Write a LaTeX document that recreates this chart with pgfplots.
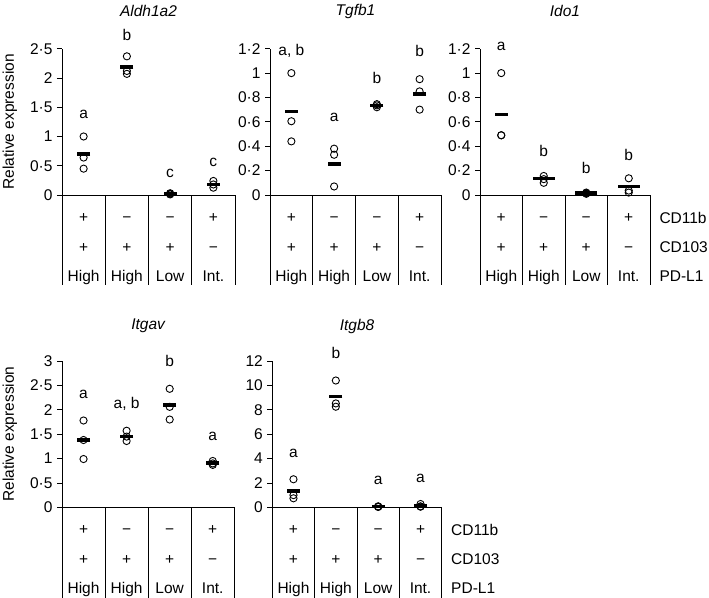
\documentclass[border=0pt]{standalone}
\usepackage{fontspec}
\setmainfont{Liberation Sans}
\usepackage{pgfplots}
\pgfplotsset{compat=1.18}
\newcommand\fs{\fontsize{15.5bp}{18bp}\selectfont}
\pgfplotsset{
  panel/.style={
    scale only axis, height=146.3bp,
    xmin=0, xmax=4, ymin=0, enlargelimits=false, clip=false,
    axis y line*=left, axis x line*=bottom,
    xtick=\empty,
    axis line style={line width=0.8bp, black},
    tick style={line width=0.8bp, black},
    tick align=outside, major tick length=5bp,
    yticklabel style={font=\fs, xshift=-1bp},
    title style={font=\fs\itshape, at={(0.5,1)}, anchor=center, yshift=31.5bp},
    ylabel style={font=\fs, at={(axis description cs:-0.302,0.5)}, anchor=center},
    anchor=south west,
  },
  pts/.style={only marks, mark=o, mark size=3.6bp, mark options={line width=0.9bp, black}},
  mean/.style={only marks, mark=-, mark size=6.5bp, mark options={line width=3.4bp, black}},
}
\newcommand\tbl[1]{%
  \draw[line width=0.8bp] (axis cs:0,0) -- ++(0,-#1);
  \draw[line width=0.8bp] (axis cs:1,0) -- ++(0,-#1);
  \draw[line width=0.8bp] (axis cs:2,0) -- ++(0,-#1);
  \draw[line width=0.8bp] (axis cs:3,0) -- ++(0,-#1);
  \draw[line width=0.8bp] (axis cs:4,0) -- ++(0,-#1);
  \node[font=\fs, anchor=base] at ([yshift=-27.5bp]axis cs:0.5,0) {+};
  \node[font=\fs, anchor=base] at ([yshift=-27.5bp]axis cs:1.5,0) {−};
  \node[font=\fs, anchor=base] at ([yshift=-27.5bp]axis cs:2.5,0) {−};
  \node[font=\fs, anchor=base] at ([yshift=-27.5bp]axis cs:3.5,0) {+};
  \node[font=\fs, anchor=base] at ([yshift=-57.5bp]axis cs:0.5,0) {+};
  \node[font=\fs, anchor=base] at ([yshift=-57.5bp]axis cs:1.5,0) {+};
  \node[font=\fs, anchor=base] at ([yshift=-57.5bp]axis cs:2.5,0) {+};
  \node[font=\fs, anchor=base] at ([yshift=-57.5bp]axis cs:3.5,0) {−};
  \node[font=\fs, anchor=base] at ([yshift=-86bp]axis cs:0.5,0) {High};
  \node[font=\fs, anchor=base] at ([yshift=-86bp]axis cs:1.5,0) {High};
  \node[font=\fs, anchor=base] at ([yshift=-86bp]axis cs:2.5,0) {Low};
  \node[font=\fs, anchor=base] at ([yshift=-86bp]axis cs:3.5,0) {Int.};
}
\newcommand\side{%
  \node[font=\fs, anchor=base west] at ([xshift=6bp,yshift=-28bp]axis cs:4,0) {CD11b};
  \node[font=\fs, anchor=base west] at ([xshift=6bp,yshift=-57.5bp]axis cs:4,0) {CD103};
  \node[font=\fs, anchor=base west] at ([xshift=6bp,yshift=-86bp]axis cs:4,0) {PD-L1};
}
\begin{document}
\begin{tikzpicture}
\useasboundingbox (0,0) rectangle (709bp,-598bp);
% Aldh1a2
\begin{axis}[panel, at={(62bp,-195bp)}, width=173bp, ymax=2.5,
  ytick={0,0.5,1,1.5,2,2.5}, yticklabels={0,0·5,1,1·5,2,2·5},
  title={Aldh1a2}, ylabel={Relative expression}]
\addplot[pts] coordinates {(0.5,1.0)(0.5,0.64)(0.5,0.45)(1.5,2.37)(1.5,2.12)(1.5,2.07)(2.5,0.02)(2.5,0.03)(2.5,0.01)(3.5,0.24)(3.5,0.18)(3.5,0.125)};
\addplot[mean] coordinates {(0.5,0.70)(1.5,2.19)(2.5,0.02)(3.5,0.18)};
\node[font=\fs] at (axis cs:0.5,1.38) {a};
\node[font=\fs] at (axis cs:1.5,2.73) {b};
\node[font=\fs] at (axis cs:2.5,0.37) {c};
\node[font=\fs] at (axis cs:3.5,0.55) {c};
\tbl{90bp}
\end{axis}
% Tgfb1
\begin{axis}[panel, at={(270bp,-195bp)}, width=171bp, ymax=1.2,
  ytick={0,0.2,0.4,0.6,0.8,1,1.2}, yticklabels={0,0·2,0·4,0·6,0·8,1,1·2},
  title={Tgfb1}]
\addplot[pts] coordinates {(0.5,1.0)(0.5,0.605)(0.5,0.44)(1.5,0.38)(1.5,0.33)(1.5,0.07)(2.5,0.745)(2.5,0.72)(2.5,0.735)(3.5,0.95)(3.5,0.85)(3.5,0.70)};
\addplot[mean] coordinates {(0.5,0.685)(1.5,0.255)(2.5,0.735)(3.5,0.83)};
\node[font=\fs] at (axis cs:0.5,1.18) {a, b};
\node[font=\fs] at (axis cs:1.5,0.64) {a};
\node[font=\fs] at (axis cs:2.5,0.96) {b};
\node[font=\fs] at (axis cs:3.5,1.18) {b};
\tbl{90bp}
\end{axis}
% Ido1
\begin{axis}[panel, at={(480bp,-195bp)}, width=170bp, ymax=1.2,
  ytick={0,0.2,0.4,0.6,0.8,1,1.2}, yticklabels={0,0·2,0·4,0·6,0·8,1,1·2},
  title={Ido1}]
\addplot[pts] coordinates {(0.5,1.0)(0.5,0.49)(0.5,0.49)(1.5,0.156)(1.5,0.13)(1.5,0.10)(2.5,0.02)(2.5,0.01)(2.5,0.015)(3.5,0.137)(3.5,0.036)(3.5,0.02)};
\addplot[mean] coordinates {(0.5,0.66)};
\addplot[mean, mark size=11bp] coordinates {(1.5,0.137)(2.5,0.015)(3.5,0.068)};
\node[font=\fs] at (axis cs:0.5,1.22) {a};
\node[font=\fs] at (axis cs:1.5,0.36) {b};
\node[font=\fs] at (axis cs:2.5,0.22) {b};
\node[font=\fs] at (axis cs:3.5,0.33) {b};
\tbl{90bp}
\side
\end{axis}
% Itgav
\begin{axis}[panel, at={(62bp,-507.3bp)}, width=172.3bp, ymax=3,
  ytick={0,0.5,1,1.5,2,2.5,3}, yticklabels={0,0·5,1,1·5,2,2·5,3},
  title={Itgav}, title style={yshift=-2.5bp}, ylabel={Relative expression}]
\addplot[pts] coordinates {(0.5,1.78)(0.5,1.38)(0.5,0.99)(1.5,1.57)(1.5,1.45)(1.5,1.36)(2.5,2.43)(2.5,2.06)(2.5,1.80)(3.5,0.95)(3.5,0.90)(3.5,0.87)};
\addplot[mean] coordinates {(0.5,1.38)(1.5,1.45)(2.5,2.10)(3.5,0.91)};
\node[font=\fs] at (axis cs:0.5,2.32) {a};
\node[font=\fs] at (axis cs:1.5,2.13) {a, b};
\node[font=\fs] at (axis cs:2.5,3.0) {b};
\node[font=\fs] at (axis cs:3.5,1.46) {a};
\tbl{90.7bp}
\end{axis}
% Itgb8
\begin{axis}[panel, at={(272.3bp,-507.3bp)}, width=169.4bp, ymax=12,
  ytick={0,2,4,6,8,10,12}, yticklabels={0,2,4,6,8,10,12},
  title={Itgb8}, title style={yshift=-2.5bp}]
\addplot[pts] coordinates {(0.5,2.3)(0.5,1.0)(0.5,0.74)(1.5,10.4)(1.5,8.52)(1.5,8.25)(2.5,0.05)(2.5,0.03)(2.5,0.08)(3.5,0.27)(3.5,0.08)(3.5,0.05)};
\addplot[mean] coordinates {(0.5,1.35)(1.5,9.1)(2.5,0.05)(3.5,0.13)};
\node[font=\fs] at (axis cs:0.5,4.43) {a};
\node[font=\fs] at (axis cs:1.5,12.7) {b};
\node[font=\fs] at (axis cs:2.5,2.24) {a};
\node[font=\fs] at (axis cs:3.5,2.38) {a};
\tbl{90.7bp}
\side
\end{axis}
\end{tikzpicture}
\end{document}
